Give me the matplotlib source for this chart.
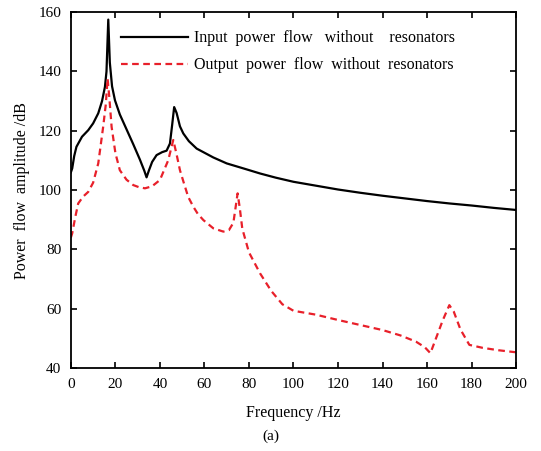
import matplotlib
matplotlib.use('Agg')
import matplotlib.pyplot as plt

plt.rcParams['font.family'] = ['Liberation Serif', 'DejaVu Serif']

# Input power flow without resonators (Hz, dB)
freq_in = [0, 0.6, 1.5, 2.5, 5, 7.8, 10, 12.3, 14, 15.3, 16, 16.8, 17.5, 18.5, 19.8, 22, 25,
           28, 31, 33, 34, 35, 36.5, 38.5, 41, 43, 44.5, 45.5, 46.4, 47.5, 49, 50.5, 53,
           56.5, 64, 70, 78, 85, 92, 100, 110, 120, 130, 140, 150, 160, 170, 180, 190, 200]
p_in = [106, 107.3, 111.5, 114.6, 118, 120.2, 122.5, 125.9, 130, 134.8, 140, 157.5, 143, 135,
        130.3, 125.5, 120.5, 115.5, 110.3, 106.5, 104.3, 106.5, 109.5, 111.8, 112.8, 113.3,
        115.7, 122, 128, 126, 121.5, 119.1, 116.5, 114, 111, 109, 107.2, 105.6, 104.2, 102.8,
        101.5, 100.2, 99.1, 98.1, 97.2, 96.3, 95.5, 94.8, 94, 93.3]

# Output power flow without resonators (Hz, dB)
freq_out = [0, 0.6, 2, 3.3, 5.5, 7.8, 10, 12.3, 14.5, 15.7, 16.5, 17.3, 18.3, 20, 22, 25, 28,
            30.5, 33.3, 36.5, 40, 43.7, 46, 47.5, 49, 50.5, 52.7, 55, 57, 59.5, 64, 68.5, 71,
            73, 74.9, 75.9, 77, 80, 85, 90, 95, 100, 110, 120, 130, 140, 148, 155, 159, 161.5,
            164, 167, 170, 172, 175, 179, 185, 192, 200]
p_out = [84, 85.4, 91, 95.5, 97.8, 99.4, 102.5, 109, 121.3, 129, 137.6, 131, 121.3, 112.5,
         106.7, 103.5, 101.7, 101, 100.6, 101.3, 103.4, 110, 116.9, 112, 106.7, 103, 97.7, 94.4,
         92, 89.9, 87.1, 86, 86.5, 89, 98.9, 93.8, 87, 79, 71.9, 66, 61.5, 59.3, 58, 56.2,
         54.5, 52.8, 51, 48.9, 47, 45, 50, 56, 61.2, 59, 53, 47.8, 46.8, 46, 45.3]

fig, ax = plt.subplots(figsize=(5.41, 4.51), dpi=100)
fig.subplots_adjust(left=0.131, right=0.954, bottom=0.184, top=0.973)

ax.plot(freq_in, p_in, color='black', lw=1.6,
        label='Input  power  flow   without    resonators')
ax.plot(freq_out, p_out, color='#e8202a', lw=1.6, ls=(0, (3, 2)),
        label='Output  power  flow  without  resonators')

ax.set_xlim(0, 200)
ax.set_ylim(40, 160)
ax.set_xticks(range(0, 201, 20))
ax.set_yticks(range(40, 161, 20))
ax.tick_params(direction='in', top=True, right=True, labelsize=11, length=4, width=1.2, pad=7)
for s in ax.spines.values():
    s.set_linewidth(1.3)

ax.set_xlabel('Frequency /Hz', fontsize=11.5, labelpad=10)
ax.set_ylabel('Power  flow  amplitude /dB', fontsize=11.5, labelpad=6)
fig.text(0.5, 0.033, '(a)', ha='center', va='center', fontsize=11)

ax.legend(loc='upper right', frameon=False, fontsize=11.5, handlelength=4.2,
          handletextpad=0.4, labelspacing=0.7, bbox_to_anchor=(0.895, 0.99))

fig.savefig('out.png', dpi=100)
